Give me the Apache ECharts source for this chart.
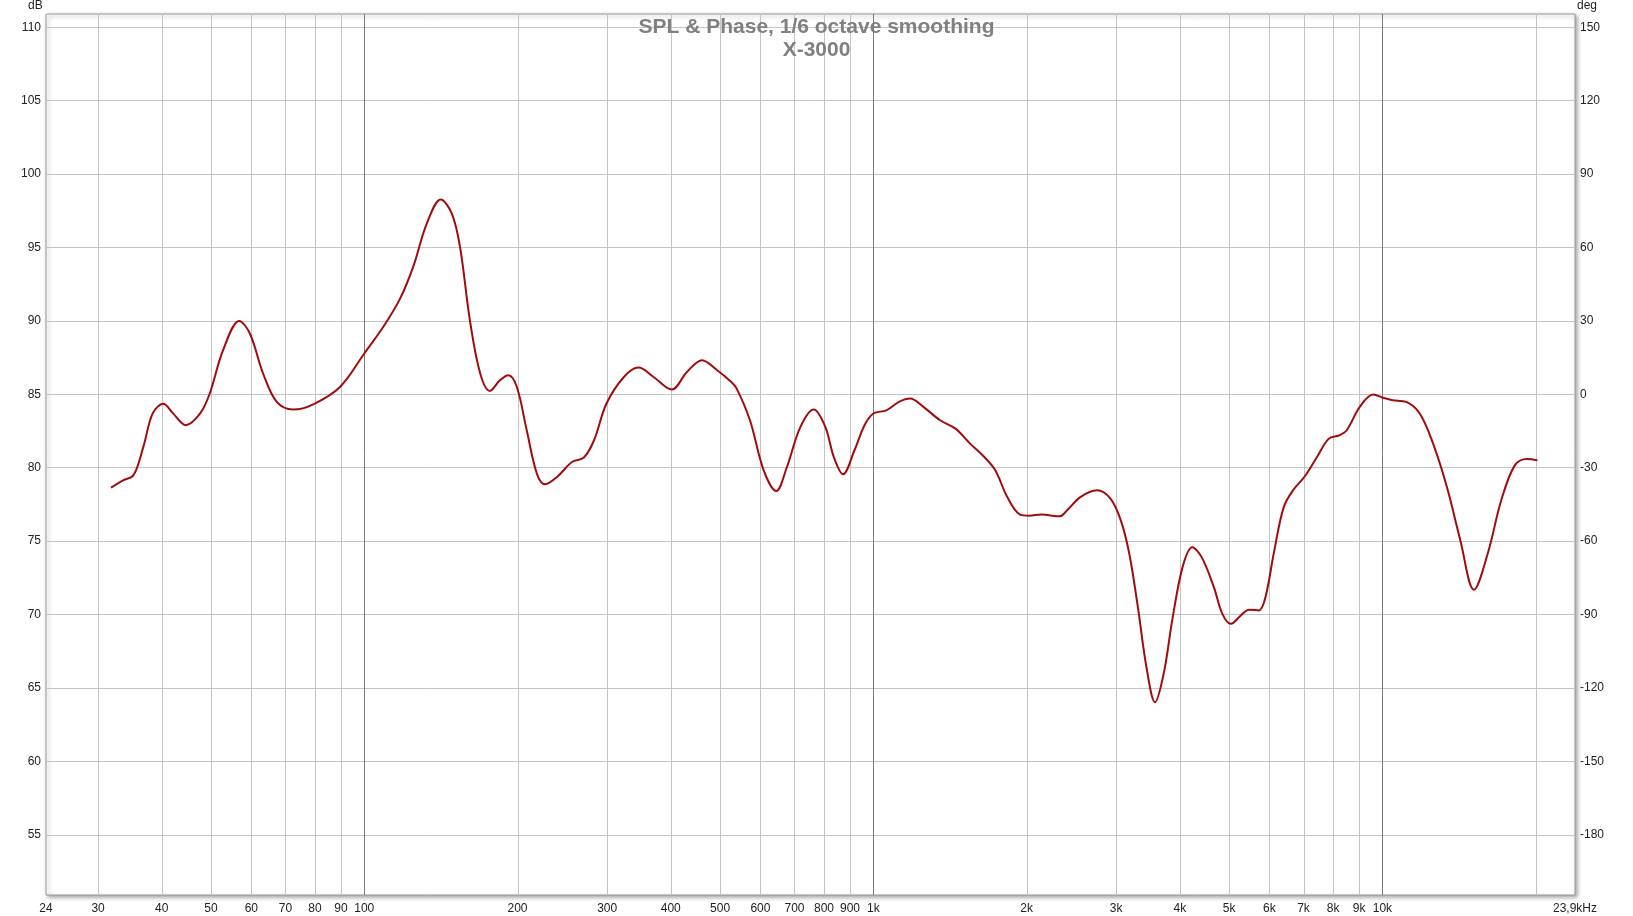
<!DOCTYPE html>
<html>
<head>
<meta charset="utf-8">
<script src="https://cdn.jsdelivr.net/npm/echarts@6/dist/echarts.min.js"></script>
<style>
html,body{margin:0;padding:0;background:#fff;}
#chart{width:1633px;height:916px;}
</style>
</head>
<body>
<div id="chart"></div>
<script>
// ---- data ----
const freqHz = [31.8,33.6,35.2,36.8,38.4,40.3,42.1,44.6,47.6,49.7,52.8,56.8,59.6,63.3,67.3,72.5,79.4,89.6,100,109,117.5,124.8,132.6,141.3,148.6,154.2,161.3,169,176.6,184.7,191.9,199.4,208.5,218.3,226.6,239.1,255.9,270,282.7,299.1,323.6,345.7,370.1,401.8,430.4,460.9,493.4,523.3,538.6,572.3,609.3,644.5,676.5,719.2,763.9,804.7,836.2,871.8,918.3,960.9,1000,1061,1123,1181,1254,1353,1450,1549,1652,1736,1833,1939,2025,2137,2322,2403,2551,2751,2923,3063,3183,3309,3440,3576,3718,3865,4050,4231,4415,4666,4849,5041,5271,5471,5721,5894,6121,6398,6687,7036,7440,7849,8229,8510,9029,9597,10000,10470,11140,11840,12580,13390,14230,15130,16100,17120,18200,19230,20170];
const splDb = [78.64,79.14,79.48,81.4,83.7,84.36,83.7,82.9,83.7,85.05,88.0,90.0,89.14,86.4,84.48,83.96,84.32,85.5,87.78,89.6,91.5,93.7,96.6,98.27,97.3,95.04,90.0,86.4,85.23,85.96,86.3,85.5,82.55,79.6,78.87,79.37,80.39,80.69,81.87,84.37,86.18,86.82,86.18,85.32,86.52,87.32,86.64,85.91,85.4,83.23,79.8,78.41,80.05,82.78,83.96,82.78,80.73,79.55,81.19,82.89,83.69,83.91,84.48,84.71,84.14,83.23,82.66,81.64,80.73,79.82,78.0,76.82,76.73,76.82,76.69,77.1,78.0,78.46,77.89,76.41,74.14,70.5,66.41,64.03,65.96,69.6,73.23,74.59,73.91,71.87,70.05,69.37,69.94,70.33,70.28,71.2,74.2,77.3,78.5,79.4,80.73,81.98,82.2,82.55,84.14,84.98,84.78,84.6,84.48,83.69,81.64,78.68,75.05,71.69,74.14,77.78,80.16,80.59,80.5];

const xGridFreqs = [30,40,50,60,70,80,90,100,200,300,400,500,600,700,800,900,1000,2000,3000,4000,5000,6000,7000,8000,9000,10000,20000];
const xDecadeFreqs = [100,1000,10000];
const xLabelFreqs = [23.7,30,40,50,60,70,80,90,100,200,300,400,500,600,700,800,900,1000,2000,3000,4000,5000,6000,7000,8000,9000,10000,23900];
const xLabelTexts = ['24','30','40','50','60','70','80','90','100','200','300','400','500','600','700','800','900','1k','2k','3k','4k','5k','6k','7k','8k','9k','10k','23,9kHz'];
const dbTicks = [55,60,65,70,75,80,85,90,95,100,105,110];
const degTicks = [-180,-150,-120,-90,-60,-30,0,30,60,90,120,150];

const X_MIN = 23.7, X_MAX = 23900;
const DB_MIN = 50.9, DB_MAX = 110.9;
const DEG_MIN = (DB_MIN - 85) * 6, DEG_MAX = (DB_MAX - 85) * 6;

const FONT = '"Liberation Sans", Arial, sans-serif';
const chart = echarts.init(document.getElementById('chart'), null, {renderer: 'canvas'});

chart.setOption({
  backgroundColor: '#ffffff',
  animation: false,
  title: [
    {text: 'SPL & Phase, 1/6 octave smoothing', left: 'center', top: 12,
     textStyle: {fontFamily: FONT, fontSize: 21, fontWeight: 'bold', color: '#808080'}},
    {text: 'X-3000', left: 'center', top: 35,
     textStyle: {fontFamily: FONT, fontSize: 21, fontWeight: 'bold', color: '#808080'}}
  ],
  graphic: [
    {type: 'text', left: 28, top: 0, style: {text: 'dB', fontFamily: FONT, fontSize: 12, fill: '#222'}},
    {type: 'text', left: 1577, top: 0, style: {text: 'deg', fontFamily: FONT, fontSize: 12, fill: '#222'}}
  ],
  grid: {
    left: 46, top: 14, right: 58, bottom: 21,
    show: true, backgroundColor: '#ffffff',
    borderColor: '#9a9a9a', borderWidth: 1,
    shadowColor: 'rgba(0,0,0,0.35)', shadowBlur: 4, shadowOffsetX: 2, shadowOffsetY: 2
  },
  xAxis: {
    type: 'log', logBase: 10, min: X_MIN, max: X_MAX,
    axisLine: {show: false}, axisTick: {show: false}, axisLabel: {show: false},
    splitLine: {show: false}, minorSplitLine: {show: false}
  },
  yAxis: [
    {type: 'value', min: DB_MIN, max: DB_MAX, position: 'left',
     axisLine: {show: false},
     axisTick: {show: false, customValues: dbTicks},
     axisLabel: {customValues: dbTicks, margin: 5, color: '#222', fontFamily: FONT, fontSize: 12},
     splitLine: {show: true, lineStyle: {color: '#c4c4c4', width: 1}}},
    {type: 'value', min: DEG_MIN, max: DEG_MAX, position: 'right',
     axisLine: {show: false},
     axisTick: {show: false, customValues: degTicks},
     axisLabel: {customValues: degTicks, margin: 5, color: '#222', fontFamily: FONT, fontSize: 12},
     splitLine: {show: false}}
  ],
  series: [
    {
      type: 'custom', name: 'xgrid', z: 1, silent: true,
      data: xGridFreqs.map(f => [f, DB_MIN]),
      renderItem: function (params, api) {
        const f = api.value(0);
        const p0 = api.coord([f, DB_MIN]);
        const p1 = api.coord([f, DB_MAX]);
        const dec = xDecadeFreqs.indexOf(f) >= 0;
        return {type: 'line', shape: {x1: Math.round(p0[0]) + 0.5, y1: p0[1], x2: Math.round(p0[0]) + 0.5, y2: p1[1]},
                style: {stroke: dec ? '#7a7a7a' : '#c4c4c4', lineWidth: 1}};
      }
    },
    {
      type: 'custom', name: 'xlabels', z: 3, silent: true, clip: false,
      data: xLabelFreqs.map((f, i) => [f, DB_MIN, i]),
      renderItem: function (params, api) {
        const f = api.value(0);
        const i = api.value(2);
        const p = api.coord([f, DB_MIN]);
        return {type: 'text', x: p[0], y: p[1] + 8,
                style: {text: xLabelTexts[i], fontFamily: FONT, fontSize: 12, fill: '#222',
                        align: 'center', verticalAlign: 'top'}};
      }
    },
    {
      type: 'line', name: 'SPL', z: 5,
      data: freqHz.map((f, i) => [f, splDb[i]]),
      showSymbol: false, smooth: 0.35,
      lineStyle: {color: '#a00c0c', width: 2},
      itemStyle: {color: '#a00c0c'}
    }
  ]
});
</script>
</body>
</html>
